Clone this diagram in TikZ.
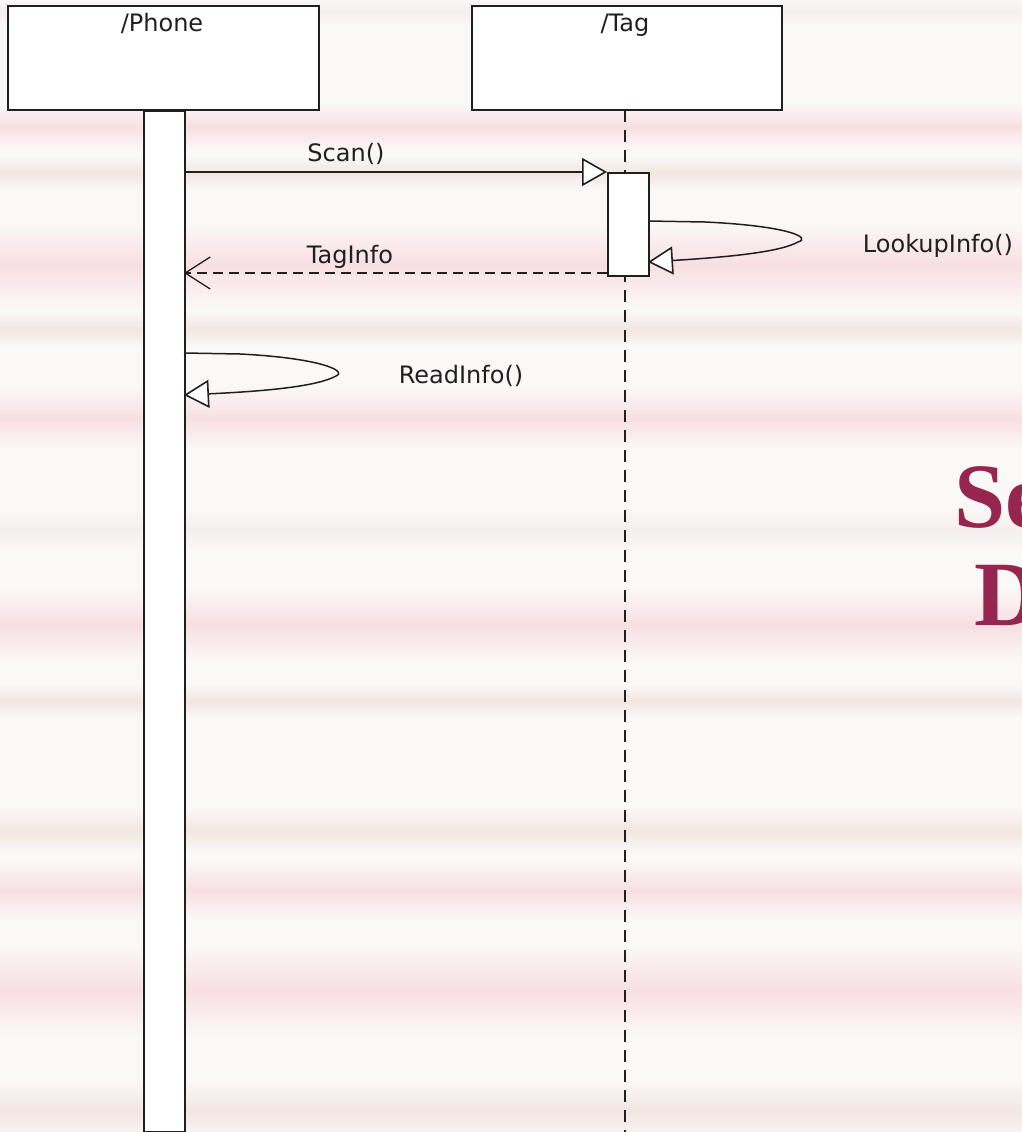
\documentclass[tikz,border=0pt]{standalone}
\usepackage{fontspec}
\newfontfamily\umlfont{DejaVu Sans}
\newfontfamily\titlefont{Liberation Serif}
\usetikzlibrary{arrows.meta}
\definecolor{bgbase}{HTML}{FBF8F8}
\definecolor{bandpink}{HTML}{F8DFE3}
\definecolor{bandbeige}{HTML}{F2E6E0}
\definecolor{bandlight}{HTML}{F6EEEE}
\definecolor{titlered}{HTML}{962550}
\definecolor{umlline}{HTML}{202020}
\tikzset{
  headbox/.style={draw=umlline, fill=white, line width=2pt, inner sep=0pt},
  actbar/.style={draw=umlline, fill=white, line width=2pt, inner sep=0pt},
  umltext/.style={font=\umlfont\fontsize{24}{28}\selectfont, text=umlline, inner sep=0pt, anchor=base},
  lifeline/.style={draw=umlline, line width=1.8pt, dash pattern=on 12pt off 8pt},
  callmsg/.style={draw=umlline, line width=1.5pt, -{Triangle[open, length=25pt, width=28pt, line width=1.6pt, fill=white]}},
  returnmsg/.style={draw=umlline, line width=1.5pt, dash pattern=on 10pt off 6pt, -{Straight Barb[length=25pt, width=32pt, line width=1.3pt]}},
  titletext/.style={font=\titlefont\bfseries\fontsize{92}{100}\selectfont, text=titlered, inner sep=0pt, anchor=base west},
  band/.style={top color=bgbase, bottom color=bgbase, middle color=#1, draw=none}
}
\begin{document}
\begin{tikzpicture}[x=1pt,y=-1pt]
\useasboundingbox (0,0) rectangle (1022,1132);
\begin{scope}
\clip (0,0) rectangle (1022,1132);
% background stripes
\fill[bgbase] (0,0) rectangle (1022,1132);
\fill[band=bandlight] (0,0) rectangle (1022,24);
\fill[band=bandpink] (0,104) rectangle (1022,150);
\fill[band=bandbeige] (0,156) rectangle (1022,190);
\fill[band=bandpink] (0,222) rectangle (1022,308);
\fill[band=bandbeige] (0,312) rectangle (1022,346);
\fill[band=bandpink] (0,386) rectangle (1022,450);
\fill[band=bandlight] (0,508) rectangle (1022,552);
\fill[band=bandpink] (0,588) rectangle (1022,662);
\fill[band=bandbeige] (0,684) rectangle (1022,718);
\fill[band=bandbeige] (0,808) rectangle (1022,852);
\fill[band=bandpink] (0,860) rectangle (1022,920);
\fill[band=bandpink] (0,944) rectangle (1022,1036);
\fill[band=bandbeige] (0,1080) rectangle (1022,1140);

% lifeline heads
\node[headbox, minimum width=311pt, minimum height=104pt] (phone) at (163.5,58) {};
\node[umltext] (phonelbl) at (162,32) {/Phone};
\node[headbox, minimum width=310pt, minimum height=104pt] (tag) at (627,58) {};
\node[umltext] (taglbl) at (625,32) {/Tag};

% tag lifeline
\coordinate (tagtop) at (625,110);
\coordinate (tagbot) at (625,1132);
\draw[lifeline] (tagtop) -- (tagbot);

% activation bars
\node[actbar, minimum width=41pt, minimum height=1021pt, anchor=north west] (phonebar) at (143,110) {};
\node[actbar, minimum width=41pt, minimum height=103pt, anchor=north west] (tagbar) at (607,172) {};

% Scan()
\coordinate (scanstart) at (184,172);
\coordinate (scanend) at (607,172);
\draw[callmsg] (scanstart) -- (scanend);
\node[umltext] (scanlbl) at (346,161) {Scan()};

% LookupInfo()
\coordinate (lkstart) at (648,221);
\coordinate (lkend) at (648,262);
\draw[callmsg] (lkstart) -- (705,222) .. controls (790,226) and (812,238) .. (798,242) .. controls (780,252) and (730,257) .. (lkend);
\node[umltext] (lklbl) at (938,252) {LookupInfo()};

% TagInfo
\coordinate (tistart) at (607,273);
\coordinate (tiend) at (184,273);
\draw[returnmsg] (tistart) -- (tiend);
\node[umltext] (tilbl) at (350,263) {TagInfo};

% ReadInfo()
\coordinate (rdstart) at (184,353);
\coordinate (rdend) at (184,395);
\draw[callmsg] (rdstart) -- (240,354) .. controls (320,358) and (348,371) .. (336,376) .. controls (318,386) and (270,391) .. (rdend);
\node[umltext] (rdlbl) at (461,383) {ReadInfo()};

% title (cut off at the right edge, as in the reference)
\node[titletext] (title1) at (954,527) {Se};
\node[titletext] (title2) at (974,625) {D};
\end{scope}
\end{tikzpicture}
\end{document}
